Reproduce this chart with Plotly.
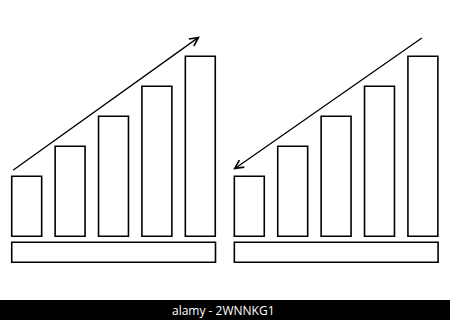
import plotly.graph_objects as go

categories = ["1", "2", "3", "4", "5"]
left_values = [2, 3, 4, 5, 6]
right_values = [2, 3, 4, 5, 6]
watermark = "alamy - 2WNNKG1"

fig = go.Figure()
bar_style = dict(marker=dict(color="white", line=dict(color="black", width=1.6)), showlegend=False, hoverinfo="skip")
fig.add_trace(go.Bar(x=categories, y=left_values, xaxis="x", yaxis="y", **bar_style))
fig.add_trace(go.Bar(x=categories, y=right_values, xaxis="x2", yaxis="y", **bar_style))

ax_common = dict(showgrid=False, zeroline=False, showticklabels=False, showline=False, ticks="", fixedrange=True)
fig.update_layout(
    width=450, height=320,
    margin=dict(l=0, r=0, t=0, b=0),
    paper_bgcolor="white", plot_bgcolor="rgba(0,0,0,0)",
    bargap=0.31,
    xaxis=dict(domain=[5/450, 222/450], range=[-0.5, 4.5], **ax_common),
    xaxis2=dict(domain=[227.6/450, 444.6/450], range=[-0.5, 4.5], anchor="y", **ax_common),
    yaxis=dict(domain=[(320-266.2)/320, (320-26.2)/320], range=[-1, 7], **ax_common),
)

# base plates under each group of bars
for xr in ["x", "x2"]:
    fig.add_shape(type="rect", xref=xr, yref="y", x0=-0.345, x1=4.35, y0=-0.2, y1=-0.87,
                  line=dict(color="black", width=1.6), fillcolor="white")

# arrows
fig.add_annotation(xref="x", yref="y", axref="x", ayref="y",
                   x=3.99, y=6.66, ax=-0.35, ay=2.16, text="", showarrow=True,
                   arrowhead=5, arrowsize=1.3, arrowwidth=1.3, arrowcolor="black", standoff=0)
fig.add_annotation(xref="x2", yref="y", axref="x2", ayref="y",
                   x=-0.37, y=2.22, ax=4.01, ay=6.64, text="", showarrow=True,
                   arrowhead=5, arrowsize=1.3, arrowwidth=1.3, arrowcolor="black", standoff=0)

# bottom watermark strip
fig.add_shape(type="rect", xref="paper", yref="paper", x0=0, x1=1, y0=0, y1=20/320,
              line=dict(width=0), fillcolor="black")
fig.add_annotation(xref="paper", yref="paper", x=0.497, y=10/320, text=watermark, showarrow=False,
                   font=dict(family="Open Sans", size=12, color="white"), xanchor="center", yanchor="middle")

fig.write_html("out.html")
